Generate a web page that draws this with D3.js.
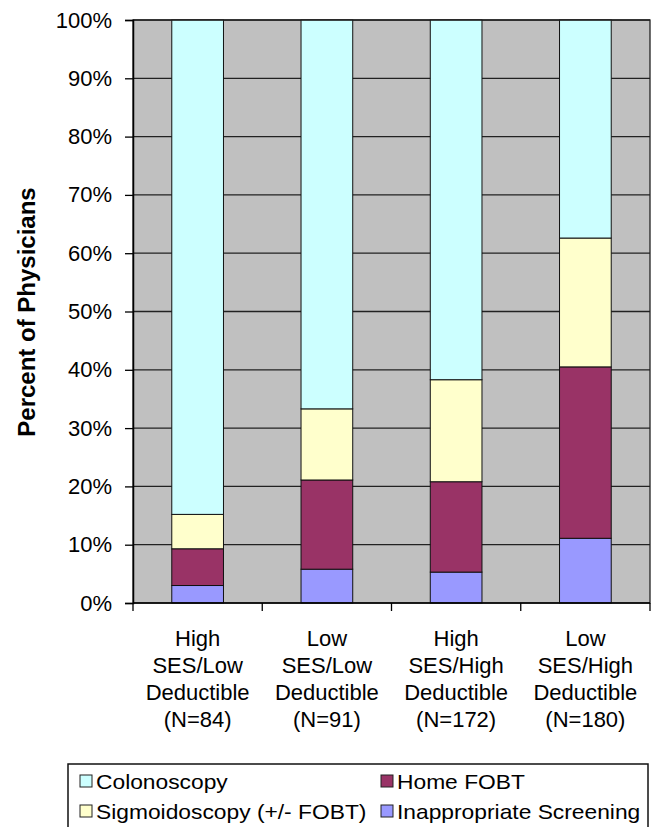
<!DOCTYPE html>
<html>
<head>
<meta charset="utf-8">
<script src="https://cdn.jsdelivr.net/npm/d3@7"></script>
<style>
  html, body { margin: 0; padding: 0; background: #fff; }
  svg { display: block; }
  text { font-family: "Liberation Sans", Arial, sans-serif; fill: #000; }
</style>
</head>
<body>
<svg id="chart" width="655" height="827"></svg>
<script>
// ---- data ----
const categories = ["HighLow", "LowLow", "HighHigh", "LowHigh"];
const categoryLabels = [
  ["High", "SES/Low", "Deductible", "(N=84)"],
  ["Low", "SES/Low", "Deductible", "(N=91)"],
  ["High", "SES/High", "Deductible", "(N=172)"],
  ["Low", "SES/High", "Deductible", "(N=180)"]
];
const seriesNames = ["Inappropriate Screening", "Home FOBT", "Sigmoidoscopy (+/- FOBT)", "Colonoscopy"];
const inappropriate = [3.0, 5.8, 5.3, 11.1];
const homeFOBT = [6.3, 15.3, 15.5, 29.4];
const sigmoidoscopy = [5.9, 12.2, 17.5, 22.1];
const colonoscopy = [84.8, 66.7, 61.7, 37.4];
const yTicks = [0, 10, 20, 30, 40, 50, 60, 70, 80, 90, 100];
const yTickLabels = yTicks.map(v => v + "%");
const legendOrder = ["Colonoscopy", "Home FOBT", "Sigmoidoscopy (+/- FOBT)", "Inappropriate Screening"];

const colors = {
  "Inappropriate Screening": "#9999FF",
  "Home FOBT": "#993366",
  "Sigmoidoscopy (+/- FOBT)": "#FFFFCC",
  "Colonoscopy": "#CCFFFF"
};

const seriesValues = [inappropriate, homeFOBT, sigmoidoscopy, colonoscopy];
const table = categories.map((c, i) => {
  const row = { cat: c };
  seriesNames.forEach((s, j) => row[s] = seriesValues[j][i]);
  return row;
});

// ---- layout ----
const svg = d3.select("#chart");
const plot = { left: 133, right: 650, top: 20, bottom: 603 };

const x = d3.scaleBand().domain(categories).range([plot.left, plot.right])
  .paddingInner(0.6).paddingOuter(0.3);
const y = d3.scaleLinear().domain([0, 100]).range([plot.bottom, plot.top]);

// plot background
svg.append("rect")
  .attr("x", plot.left).attr("y", plot.top)
  .attr("width", plot.right - plot.left).attr("height", plot.bottom - plot.top)
  .attr("fill", "#C0C0C0");

// gridlines
svg.append("g").selectAll("line").data(yTicks.filter(v => v > 0)).join("line")
  .attr("x1", plot.left).attr("x2", plot.right)
  .attr("y1", d => y(d)).attr("y2", d => y(d))
  .attr("stroke", "#222").attr("stroke-width", 1.3);

// bars
const stack = d3.stack().keys(seriesNames)(table);
svg.append("g").selectAll("g").data(stack).join("g")
  .attr("fill", d => colors[d.key])
  .selectAll("rect").data(d => d).join("rect")
  .attr("x", d => x(d.data.cat))
  .attr("width", x.bandwidth())
  .attr("y", d => y(d[1]))
  .attr("height", d => y(d[0]) - y(d[1]))
  .attr("stroke", "#111").attr("stroke-width", 1);

// plot border
svg.append("rect")
  .attr("x", plot.left).attr("y", plot.top)
  .attr("width", plot.right - plot.left).attr("height", plot.bottom - plot.top)
  .attr("fill", "none").attr("stroke", "#222").attr("stroke-width", 1.3);

// y axis
const yAxis = d3.axisLeft(y).tickValues(yTicks).tickFormat((d, i) => yTickLabels[i])
  .tickSize(8).tickPadding(13);
const yg = svg.append("g").attr("transform", `translate(${plot.left},0)`).call(yAxis);
yg.select(".domain").attr("stroke", "#000").attr("stroke-width", 1.5);
yg.selectAll(".tick line").attr("stroke", "#000").attr("stroke-width", 1.3);
yg.selectAll(".tick text").style("font-size", "22px")
  .style("font-family", '"Liberation Sans", Arial, sans-serif').attr("fill", "#000");

// x axis: ticks at category boundaries
const step = x.step();
const boundaries = d3.range(categories.length + 1).map(i => plot.left + i * step);
svg.append("line").attr("x1", plot.left).attr("x2", plot.right)
  .attr("y1", plot.bottom).attr("y2", plot.bottom)
  .attr("stroke", "#000").attr("stroke-width", 1.5);
svg.append("g").selectAll("line").data(boundaries).join("line")
  .attr("x1", d => d).attr("x2", d => d)
  .attr("y1", plot.bottom).attr("y2", plot.bottom + 8)
  .attr("stroke", "#000").attr("stroke-width", 1.3);

// x labels
const baselines = [646, 673, 700, 727];
categoryLabels.forEach((lines, i) => {
  const cx = x(categories[i]) + x.bandwidth() / 2;
  const t = svg.append("text").attr("text-anchor", "middle").style("font-size", "22px");
  lines.forEach((ln, k) => {
    t.append("tspan").attr("x", cx).attr("y", baselines[k]).text(ln);
  });
});

// y title
svg.append("text")
  .attr("transform", `translate(35,312) rotate(-90)`)
  .attr("text-anchor", "middle")
  .style("font-size", "24px").style("font-weight", "bold")
  .text("Percent of Physicians");

// legend
const lg = svg.append("g");
lg.append("rect").attr("x", 68).attr("y", 764).attr("width", 580).attr("height", 80)
  .attr("fill", "#fff").attr("stroke", "#111").attr("stroke-width", 1.5);
const legPos = [[80, 789], [381, 789], [80, 819], [381, 819]];
legendOrder.forEach((name, i) => {
  const [lx, ly] = legPos[i];
  lg.append("rect").attr("x", lx).attr("y", ly - 14).attr("width", 12).attr("height", 12)
    .attr("fill", colors[name]).attr("stroke", "#222").attr("stroke-width", 1);
  lg.append("text").attr("transform", `translate(${lx + 16},${ly}) scale(1.14,1)`)
    .style("font-size", "20px").text(name);
});
</script>
</body>
</html>
